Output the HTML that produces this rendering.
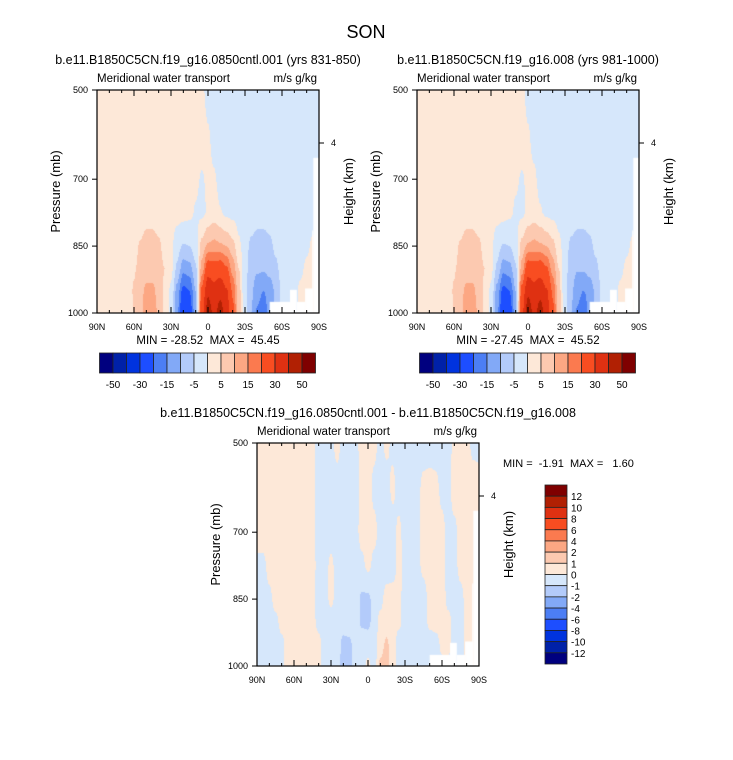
<!DOCTYPE html>
<html><head><meta charset="utf-8">
<style>
body{margin:0;background:#fff;width:733px;height:760px;overflow:hidden;font-family:"Liberation Sans",sans-serif;}
#wrap{position:relative;width:733px;height:760px;}
canvas{position:absolute;}
svg{position:absolute;left:0;top:0;}
svg text{white-space:pre;}
</style></head><body>
<div id="wrap">
<canvas id="c1" width="222" height="223" style="left:97px;top:90px"></canvas>
<canvas id="c2" width="222" height="223" style="left:417px;top:90px"></canvas>
<canvas id="c3" width="222" height="223" style="left:257px;top:443px"></canvas>
<svg id="s" width="733" height="760"></svg>
</div>
<script>
// ---- data ----
const lats = [90,85,80,75,70,65,60,55,50,45,40,35,30,25,20,15,10,5,0,-5,-10,-15,-20,-25,-30,-35,-40,-45,-50,-55,-60,-65,-70,-75,-80,-85,-90];
const pres = [500,600,700,775,850,900,950,1000];
const f1 = [
[2,2,2,2,2,2,2,2,2,2,2,2,2,2,2,2,2,0.8,-1.5,-2,-2,-2,-2,-2,-2,-2,-2,-2,-2,-2,-2,-2,-2,-2,-2,-2,-2],
[2,2,2,2,2,2,2,2,2,2,2,2,2,2,2,2,2,2,0.5,-1.5,-2,-2,-2,-2,-2,-2,-2,-2,-2,-2,-2,-2,-2,-2,-2,-2,-2],
[2,2,2,2,2,2,2,2,2,2,2,2,2,2,2,2,1,-0.5,1,0.5,-1.5,-2,-2,-2,-2,-2,-2,-2,-2,-2,-2,-2,-2,-2,-2,-2,-2],
[2,2,2,2,2,2,2,2.5,3,3,2.5,2,2,2,2,1.5,-0.5,-1.5,0.5,2,0.3,-1.5,-2,-2,-2,-2.5,-3,-3,-3,-2.5,-2,-2,-2,-2,-2,-2,-2],
[2,2,2,2,2,2,3,5.5,7,7,6,3,1,-3,-5.5,-5,-2,7,11,12,11,10,7,1,-3,-6,-7,-7,-6,-4,-2,-2,-2,-2,-1,1,1],
[2,2,2,2,2,2.5,4.5,6.5,8,8,7,5,1.5,-6,-13,-12,-6,12,25,24,25,21,13,5,-3,-8,-9,-9,-8,-6,-3,-2,-2,-1,1,2,2],
[2,2,2,2,2,2.5,5.5,8.5,11,11,8.5,4,-1,-12,-22,-20,-10,22,38,34,37,31,19,7,-4,-9,-13,-15,-13,-9,-4,-2,-1.5,1,2,2,2],
[2,2,2,2,2,3,5,9,12,12,9.5,4,-2,-14,-28,-24,-12,27,45,38,44,36,22,8,-4,-10,-16,-18,-13,-9,-4,-2,-1.5,1,2,2,2]
];
const f2 = [
[2,2,2,2,2,2,2,2,2,2,2,2,2,2,2,2,2,1,-1.5,-2,-2,-2,-2,-2,-2,-2,-2,-2,-2,-2,-2,-2,-2,-2,-2,-2,-2],
[2,2,2,2,2,2,2,2,2,2,2,2,2,2,2,2,2,2,0.5,-1.5,-2,-2,-2,-2,-2,-2,-2,-2,-2,-2,-2,-2,-2,-2,-2,-2,-2],
[2,2,2,2,2,2,2,2,2,2,2,2,2,2,2,2,0.8,-0.5,1,0.8,-1.5,-2,-2,-2,-2,-2,-2,-2,-2,-2,-2,-2,-2,-2,-2,-2,-2],
[2,2,2,2,2,2,2,2.5,3,3,2.5,2,2,2,2,1.2,-0.8,-1.5,1,2,0.5,-1.5,-2,-2,-2,-2.5,-3,-3,-3,-2.5,-2,-2,-2,-2,-2,-2,-2],
[2,2,2,2,2,2,3,5.5,7,7,6,3,1,-3,-5.5,-5,-2,7,11,12,11,10,7,1.5,-3,-6,-7,-7,-6,-4,-2,-2,-2,-2,-1,1,1],
[2,2,2,2,2,2.5,4.5,6.5,8,8,7,5,1.5,-6,-13,-12,-6,12,25,24,25,21,13,5,-3,-8,-9.5,-9,-8,-6,-3,-2,-2,-1,1,2,2],
[2,2,2,2,2,2.5,5.5,8.5,11,11,8.5,4,-1,-12,-22,-20,-10,23,38,34,37,31,19,7,-4,-9,-13,-15,-13,-9,-4,-2,-1.5,1,2,2,2],
[2,2,2,2,2,3,5,9,12,12,9.5,4,-2,-14,-27.5,-24,-12,28,45.5,38,44,36,22,8,-4,-10,-16,-19,-13,-9,-4,-2,-1.5,1,2,2,2]
];
const f3 = [
[0.5,0.5,0.5,0.5,0.5,0.5,0.5,0.5,0.5,0.3,-0.5,-0.5,-0.3,0.4,-0.4,-0.5,-0.3,0.4,0.5,0.3,-0.3,0.3,-0.3,-0.5,-0.5,-0.5,-0.5,-0.5,-0.5,-0.5,-0.5,-0.5,0.3,0.5,0.4,-0.3,-0.4],
[0.5,0.5,0.5,0.5,0.5,0.5,0.5,0.5,0.5,0.3,-0.5,-0.5,-0.5,-0.5,-0.5,-0.5,-0.3,0.3,0.5,-0.3,-0.5,-0.5,0.3,-0.5,-0.5,-0.5,-0.3,0.3,0.4,0.3,-0.3,-0.3,0.5,0.5,0.5,0.5,0.5],
[0.5,0.5,0.5,0.5,0.5,0.5,0.5,0.5,0.5,0.3,-0.5,-0.5,-0.5,-0.5,-0.5,-0.5,-0.3,0.4,0.5,0.3,-0.3,-0.5,-0.5,0.3,-0.5,-0.5,-0.3,0.4,0.5,0.5,0.3,-0.3,-0.3,0.4,0.5,0.5,0.5],
[-0.3,-0.3,0.4,0.5,0.5,0.5,0.5,0.5,0.5,0.3,-0.3,-0.5,0.3,-0.5,-0.5,-0.5,-0.5,-0.3,0.3,-0.3,-0.5,-0.5,-0.5,0.3,-0.3,-0.5,-0.3,0.3,0.5,0.5,0.3,-0.3,-0.3,0.3,0.4,0.3,-0.3],
[-0.5,-0.5,-0.3,0.4,0.5,0.5,0.5,0.5,0.5,0.3,-0.5,-0.5,0.3,-0.5,-0.5,-0.5,-0.5,-1.2,-1.3,-0.5,-0.3,0.4,0.5,0.3,-0.5,-0.5,-0.5,-0.5,0.3,0.5,0.5,-0.3,-0.5,-0.3,0.3,0.3,-0.3],
[-0.5,-0.5,-0.5,-0.3,0.4,0.5,0.5,0.5,0.5,0.3,-0.3,-0.5,-0.5,-0.5,-0.5,-0.5,-0.5,-1.2,-1.3,-0.5,0.3,0.5,0.5,0.3,-0.5,-0.5,-0.5,-0.5,0.3,0.5,0.5,0.3,-0.3,-0.3,0.3,0.3,-0.3],
[-0.5,-0.5,-0.5,-0.5,-0.3,0.4,0.5,0.5,0.5,0.4,0.3,-0.5,-0.5,-0.5,-1.3,-1.2,-0.5,-0.5,-0.5,-0.5,0.5,1.2,0.4,-0.5,-0.5,-0.5,-0.5,-0.5,-0.5,-0.5,0.3,0.3,-0.3,-0.3,0.3,0.3,-0.3],
[-0.5,-0.5,-0.5,-0.5,-0.3,0.4,0.5,0.5,0.5,0.4,0.3,-0.5,-0.5,-0.5,-1.5,-1.3,-0.5,-0.5,0.3,-0.5,1.3,1.5,0.4,-0.5,-0.5,-0.5,-0.5,-0.5,-0.5,-0.5,-0.3,-0.3,-0.3,-0.3,0.3,0.3,-0.3]
];
const lev1 = [-50,-40,-30,-20,-15,-10,-5,0,5,10,15,20,30,40,50];
const lev3 = [-12,-10,-8,-6,-4,-2,-1,0,1,2,4,6,8,10,12];
const lab1 = ["-50","-30","-15","-5","5","15","30","50"];
const lab3 = ["12","10","8","6","4","2","1","0","-1","-2","-4","-6","-8","-10","-12"];
const xTicks = [90,60,30,0,-30,-60,-90];
const xTickLabels = ["90N","60N","30N","0","30S","60S","90S"];
const yTicks = [500,700,850,1000];
// missing-data masks [lat from, lat to, pressure top]
const masks = [[-50,-66.5,975],[-66.5,-72,948],[-72,-78.7,975],[-78.7,-85.4,945],[-84.5,-85.4,815],[-85.4,-90,652]];
const colors = ["#00007f","#0021a8","#0033de","#1d4eff","#4c7ef4","#82a9f7","#b3cbfa","#d6e7fb","#fde8d8","#fcc9b0","#fca783","#fb7a4f","#f84d21","#df3112","#b12003","#7f0000"];
// ---- axes ----
const W=222,H=223;
function xs(lat){return (90-lat)/180*W;}
function ys(p){return (p-500)/500*H;}
function field(F,lat,p){
  let fi=(90-lat)/5; let i0=Math.min(Math.floor(fi),lats.length-2); let tx=fi-i0;
  tx=tx*tx*(3-2*tx);
  let j0=0; while(j0<pres.length-2 && p>pres[j0+1]) j0++;
  let ty=(p-pres[j0])/(pres[j0+1]-pres[j0]);
  const a=F[j0][i0],b=F[j0][i0+1],c=F[j0+1][i0],d=F[j0+1][i0+1];
  return (a*(1-tx)+b*tx)*(1-ty)+(c*(1-tx)+d*tx)*ty;
}
function colorOf(v,lev){let k=0;while(k<lev.length&&v>=lev[k])k++;return colors[k];}
function draw(id,F,lev){
  const ctx=document.getElementById(id).getContext('2d');
  for(let x=0;x<W;x++)for(let y=0;y<H;y++){
    const lat=90-(x+0.5)/W*180,p=500+(y+0.5)/H*500;
    ctx.fillStyle=colorOf(field(F,lat,p),lev);ctx.fillRect(x,y,1,1);
  }
  ctx.fillStyle="#fff";
  masks.forEach(m=>{const x1=xs(m[0]),x2=xs(m[1]);const y1=ys(m[2]);ctx.fillRect(x1,y1,x2-x1,H-y1);});
}
draw('c1',f1,lev1);draw('c2',f2,lev1);draw('c3',f3,lev3);
// ---- svg overlay ----
const svg=document.getElementById('s');const NS="http://www.w3.org/2000/svg";
function el(t,a,txt){const e=document.createElementNS(NS,t);for(const k in a)e.setAttribute(k,a[k]);if(txt!==undefined)e.textContent=txt;svg.appendChild(e);return e;}
let t=el('text',{x:366,y:38,'font-size':18,'text-anchor':'middle'},'SON');


function panel(ox,oy,title,minmax,name){
  let e=el('text',{x:ox+111,y:oy-26,'font-size':12.5,'text-anchor':'middle'},title);
  
  
  e=el('text',{x:ox,y:oy-8,'font-size':11.5},'Meridional water transport');
  
  
  e=el('text',{x:ox+W-2,y:oy-8,'font-size':11.5,'text-anchor':'end'},'m/s g/kg');
  
  
  e=el('rect',{x:ox,y:oy,width:W,height:H,fill:'none',stroke:'#000','stroke-width':1.2});
  
  
  for(let lat=90;lat>=-90;lat-=10){const x=ox+xs(lat);const L=(lat%30===0)?6:3;
    el('line',{x1:x,y1:oy,x2:x,y2:oy+L,stroke:'#000','stroke-width':1});
    el('line',{x1:x,y1:oy+H,x2:x,y2:oy+H-L,stroke:'#000','stroke-width':1});}
  xTicks.forEach((lat,i)=>{const x=ox+xs(lat);
    e=el('text',{x:x,y:oy+H+17,'font-size':9,'text-anchor':'middle'},xTickLabels[i]);
    
    });
  yTicks.forEach(p=>{const y=oy+ys(p);
    el('line',{x1:ox-5,y1:y,x2:ox,y2:y,stroke:'#000','stroke-width':1});
    e=el('text',{x:ox-9,y:y+3,'font-size':9,'text-anchor':'end'},String(p));
    
    });
  el('line',{x1:ox+W,y1:oy+53,x2:ox+W+5,y2:oy+53,stroke:'#000','stroke-width':1});
  e=el('text',{x:ox+W+12,y:oy+56,'font-size':9},'4');
  
  
  e=el('text',{x:0,y:0,'font-size':13,'text-anchor':'middle',transform:`translate(${ox-37},${oy+H/2-10}) rotate(-90)`},'Pressure (mb)');
  
  
  e=el('text',{x:0,y:0,'font-size':13,'text-anchor':'middle',transform:`translate(${ox+W+34},${oy+H/2-10}) rotate(-90)`},'Height (km)');
  
  
  if(minmax){e=el('text',{x:ox+111,y:oy+H+31,'font-size':11.5,'text-anchor':'middle'},minmax);
    
    }
}
panel(97,90,'b.e11.B1850C5CN.f19_g16.0850cntl.001 (yrs 831-850)','MIN = -28.52  MAX =  45.45','cntl');
panel(417,90,'b.e11.B1850C5CN.f19_g16.008 (yrs 981-1000)','MIN = -27.45  MAX =  45.52','exp');
panel(257,443,'b.e11.B1850C5CN.f19_g16.0850cntl.001 - b.e11.B1850C5CN.f19_g16.008',null,'diff');
let mm=el('text',{x:503,y:467,'font-size':11},'MIN =  -1.91  MAX =   1.60');


function hbar(x0){const bw=216/16;
  colors.forEach((c,i)=>{const r=el('rect',{x:x0+i*bw,y:353,width:bw,height:20,fill:c,stroke:'#222','stroke-width':0.8});
    
    });
  lab1.forEach((l,k)=>{const r=el('text',{x:x0+(2*k+1)*bw,y:388,'font-size':10,'text-anchor':'middle'},l);
    
    });
}
hbar(99.5);hbar(419.5);
const bh=179/16;
colors.slice().reverse().forEach((c,i)=>{const r=el('rect',{x:545,y:485+i*bh,width:22,height:bh,fill:c,stroke:'#222','stroke-width':0.8});
  
  });
lab3.forEach((l,k)=>{const r=el('text',{x:571,y:485+(k+1)*bh+4,'font-size':10},l);
  
  });
</script>
</body></html>
